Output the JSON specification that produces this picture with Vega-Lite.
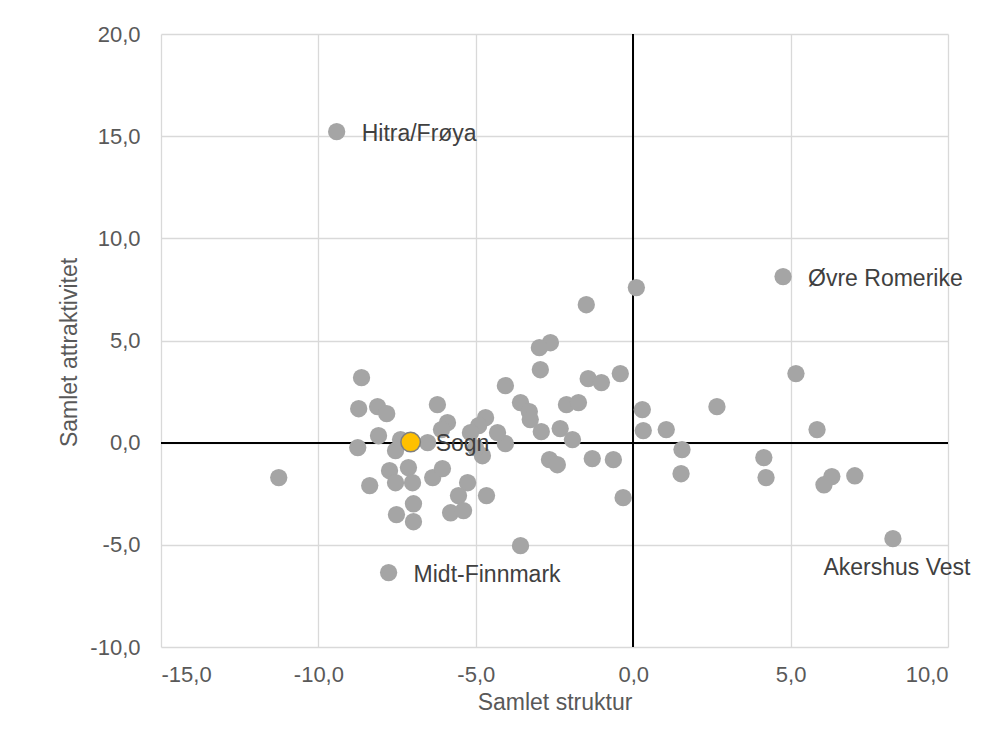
{
  "$schema": "https://vega.github.io/schema/vega-lite/v6.json",
  "width": 787,
  "height": 613,
  "autosize": "none",
  "padding": {"left": 161, "top": 34, "right": 39, "bottom": 108},
  "background": "#ffffff",
  "config": {
    "font": "Liberation Sans",
    "view": {"stroke": null},
    "axis": {
      "grid": true,
      "gridColor": "#D9D9D9",
      "gridWidth": 1.3,
      "domain": false,
      "ticks": false,
      "labelFont": "Liberation Sans",
      "labelFontSize": 22,
      "labelColor": "#595959",
      "titleFont": "Liberation Sans",
      "titleFontSize": 23,
      "titleFontWeight": "normal",
      "titleColor": "#595959"
    }
  },
  "data": {
    "values": [
      {"name": "Hitra/Frøya", "x": -9.42, "y": 15.22},
      {"name": "Øvre Romerike", "x": 4.76, "y": 8.13},
      {"name": "Akershus Vest", "x": 8.25, "y": -4.7},
      {"name": "Midt-Finnmark", "x": -7.77, "y": -6.36},
      {"name": "", "x": -11.26, "y": -1.71},
      {"name": "", "x": 0.1, "y": 7.59},
      {"name": "", "x": -1.49, "y": 6.75},
      {"name": "", "x": -2.63, "y": 4.89},
      {"name": "", "x": -2.98, "y": 4.65},
      {"name": "", "x": -2.95, "y": 3.57},
      {"name": "", "x": -4.06, "y": 2.79},
      {"name": "", "x": -1.43, "y": 3.13},
      {"name": "", "x": -1.01, "y": 2.94},
      {"name": "", "x": -0.41, "y": 3.38},
      {"name": "", "x": 5.17, "y": 3.38},
      {"name": "", "x": -3.58, "y": 1.96},
      {"name": "", "x": -3.3, "y": 1.52},
      {"name": "", "x": -3.27, "y": 1.13},
      {"name": "", "x": -2.92, "y": 0.54},
      {"name": "", "x": -2.12, "y": 1.86},
      {"name": "", "x": -1.74, "y": 1.96},
      {"name": "", "x": -2.32, "y": 0.69},
      {"name": "", "x": -1.93, "y": 0.15},
      {"name": "", "x": 0.29, "y": 1.62},
      {"name": "", "x": 0.32, "y": 0.59},
      {"name": "", "x": 1.05, "y": 0.64},
      {"name": "", "x": 2.66, "y": 1.76},
      {"name": "", "x": 1.55, "y": -0.34},
      {"name": "", "x": 1.52, "y": -1.52},
      {"name": "", "x": 4.15, "y": -0.73},
      {"name": "", "x": 4.22, "y": -1.71},
      {"name": "", "x": 5.84, "y": 0.64},
      {"name": "", "x": 6.31, "y": -1.66},
      {"name": "", "x": 6.06, "y": -2.06},
      {"name": "", "x": 7.04, "y": -1.62},
      {"name": "", "x": -0.32, "y": -2.69},
      {"name": "", "x": -0.63, "y": -0.83},
      {"name": "", "x": -1.3, "y": -0.78},
      {"name": "", "x": -2.66, "y": -0.83},
      {"name": "", "x": -2.41, "y": -1.08},
      {"name": "", "x": -3.58, "y": -5.04},
      {"name": "", "x": -4.66, "y": -2.59},
      {"name": "", "x": -5.26, "y": -1.96},
      {"name": "", "x": -5.55, "y": -2.59},
      {"name": "", "x": -5.8, "y": -3.43},
      {"name": "", "x": -5.39, "y": -3.33},
      {"name": "", "x": -4.79, "y": -0.64},
      {"name": "", "x": -5.01, "y": -0.24},
      {"name": "", "x": -4.06, "y": -0.05},
      {"name": "", "x": -4.69, "y": 1.22},
      {"name": "", "x": -4.91, "y": 0.83},
      {"name": "", "x": -5.17, "y": 0.49},
      {"name": "", "x": -4.31, "y": 0.49},
      {"name": "", "x": -5.9, "y": 0.98},
      {"name": "", "x": -6.22, "y": 1.86},
      {"name": "", "x": -6.09, "y": 0.64},
      {"name": "", "x": -6.53, "y": 0.0},
      {"name": "", "x": -8.63, "y": 3.18},
      {"name": "", "x": -8.72, "y": 1.66},
      {"name": "", "x": -8.12, "y": 1.76},
      {"name": "", "x": -7.83, "y": 1.42},
      {"name": "", "x": -8.09, "y": 0.34},
      {"name": "", "x": -8.75, "y": -0.24},
      {"name": "", "x": -7.55, "y": -0.39},
      {"name": "", "x": -7.39, "y": 0.15},
      {"name": "", "x": -7.74, "y": -1.37},
      {"name": "", "x": -7.14, "y": -1.22},
      {"name": "", "x": -7.55, "y": -1.96},
      {"name": "", "x": -7.01, "y": -1.96},
      {"name": "", "x": -8.37, "y": -2.1},
      {"name": "", "x": -6.37, "y": -1.71},
      {"name": "", "x": -6.06, "y": -1.27},
      {"name": "", "x": -6.98, "y": -2.99},
      {"name": "", "x": -7.52, "y": -3.52},
      {"name": "", "x": -6.98, "y": -3.87},
      {"name": "Sogn", "x": -7.07, "y": 0.03}
    ]
  },
  "encoding": {
    "x": {
      "field": "x",
      "type": "quantitative",
      "scale": {"domain": [-15, 10], "nice": false, "zero": false},
      "axis": {
        "values": [-15, -10, -5, 0, 5, 10],
        "title": "Samlet struktur",
        "labelPadding": 17,
        "titlePadding": 6,
        "labelExpr": "replace(replace(format(datum.value, '.1f'), '.', ','), '−', '-')"
      }
    },
    "y": {
      "field": "y",
      "type": "quantitative",
      "scale": {"domain": [-10, 20], "nice": false, "zero": false},
      "axis": {
        "values": [-10, -5, 0, 5, 10, 15, 20],
        "title": "Samlet attraktivitet",
        "labelPadding": 21,
        "titlePadding": 8,
        "titleY": 318,
        "labelExpr": "replace(replace(format(datum.value, '.1f'), '.', ','), '−', '-')"
      }
    }
  },
  "layer": [
    {
      "mark": {"type": "rule", "color": "#000000", "strokeWidth": 1.5},
      "encoding": {"x": {"datum": 0, "type": "quantitative"}, "y": null}
    },
    {
      "mark": {"type": "rule", "color": "#000000", "strokeWidth": 1.5},
      "encoding": {"y": {"datum": 0, "type": "quantitative"}, "x": null}
    },
    {
      "transform": [{"filter": "datum.name !== 'Sogn'"}],
      "mark": {"type": "circle", "size": 300, "color": "#A5A5A5", "opacity": 1}
    },
    {
      "transform": [{"filter": "datum.name === 'Sogn'"}],
      "mark": {"type": "circle", "size": 380, "color": "#FFC000", "opacity": 1, "stroke": "#7F7F7F", "strokeWidth": 1.5}
    },
    {
      "transform": [{"filter": "datum.name !== '' && datum.name !== 'Akershus Vest'"}],
      "mark": {"type": "text", "align": "left", "baseline": "middle", "dx": 25, "dy": 2, "fontSize": 23, "color": "#404040", "font": "Liberation Sans"},
      "encoding": {"text": {"field": "name"}}
    },
    {
      "transform": [{"filter": "datum.name === 'Akershus Vest'"}],
      "mark": {"type": "text", "align": "center", "baseline": "middle", "dx": 4, "dy": 29, "fontSize": 23, "color": "#404040", "font": "Liberation Sans"},
      "encoding": {"text": {"field": "name"}}
    }
  ]
}
